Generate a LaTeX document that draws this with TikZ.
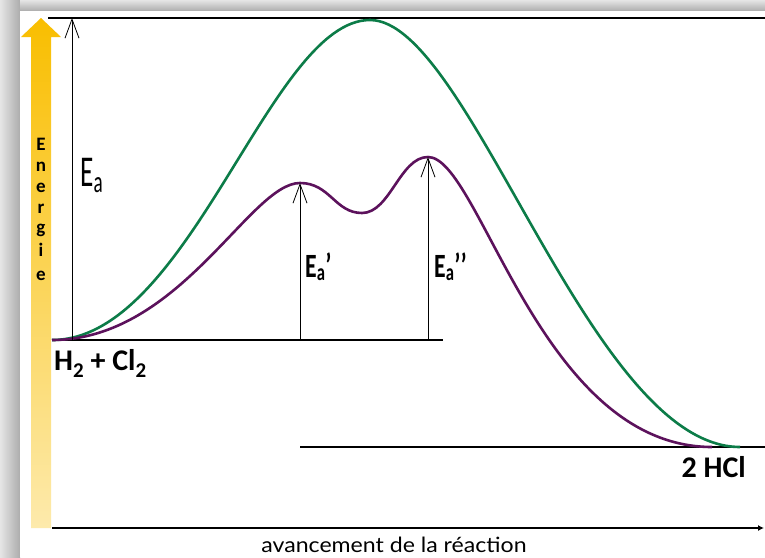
\documentclass[tikz,border=0pt]{standalone}
\usepackage{fontspec}
\setmainfont{Carlito}
\newfontfamily\axisfont{Lato}
\usetikzlibrary{arrows.meta}

\definecolor{greenpath}{RGB}{12,124,72}
\definecolor{purplepath}{RGB}{92,18,92}
\definecolor{arrowtop}{RGB}{249,190,0}
\definecolor{arrowbot}{RGB}{253,234,172}

\newcommand\lowsub[1]{\raisebox{-7pt}{\fontsize{21}{21}\selectfont #1}}

\tikzset{
  level/.style={line width=1.4pt},
  gap/.style={line width=0.8pt,-{Straight Barb[length=19pt,width=14pt]}},
  curve/.style={line width=2.6pt},
  tag/.style={font=\bfseries\fontsize{30}{30}\selectfont,inner sep=0pt},
}

\begin{document}
\begin{tikzpicture}[x=1pt,y=-1pt]
\useasboundingbox (0,0) rectangle (765,557);
% shadow behind the panel
\fill[gray!40] (0,0) rectangle (765,557);
\shade[left color=gray!20,right color=gray!65] (0,0) rectangle (20,557);
\shade[top color=gray!20,bottom color=gray!65] (20,0) rectangle (765,11);
\fill[white] (20,11) rectangle (765,557);

% energy arrow
\shade[top color=arrowtop,bottom color=arrowbot] (31,528) -- (31,37) -- (21,37) -- (41,18)
  -- (61,37) -- (51,37) -- (51,528) -- cycle;
\foreach \l/\y in {E/150,n/171,e/192,r/213,g/233,i/256,e/280}
  \node[anchor=base,inner sep=0pt,font=\bfseries\fontsize{19}{19}\selectfont] (en\y) at (41,\y) {\l};

% levels and axes
\coordinate (top0) at (48,18);   \coordinate (top1) at (765,18);
\coordinate (reac0) at (52,340); \coordinate (reac1) at (443,340);
\coordinate (prod0) at (300,447); \coordinate (prod1) at (765,447);
\coordinate (ax0) at (52,528);   \coordinate (ax1) at (764,528);
\draw[line width=2.2pt] (top0) -- (top1);
\draw[level] (reac0) -- (reac1);
\draw[level] (prod0) -- (prod1);
\draw[line width=1.8pt,-{Latex[length=6pt,width=6pt]}] (ax0) -- (ax1);

% profiles
\coordinate (ts) at (370,20);
\coordinate (ts1) at (300,183);
\coordinate (inter) at (362,213);
\coordinate (ts2) at (428,157);
\coordinate (endg) at (740,447);
\coordinate (endp) at (712,447);
\draw[curve,greenpath] (reac0) .. controls (190,340) and (270,20) .. (ts)
  .. controls (470,20) and (590,447) .. (endg);
\draw[curve,purplepath] (reac0) .. controls (180,340) and (250,183) .. (ts1)
  .. controls (330,183) and (335,213) .. (inter)
  .. controls (390,213) and (400,157) .. (ts2)
  .. controls (480,157) and (540,447) .. (endp);

% activation energies
\coordinate (ea0) at (72,340);   \coordinate (eatop) at (72,18);
\coordinate (ea10) at (300,340); \coordinate (ea20) at (428,340);
\draw[gap] (ea0) -- (eatop);
\draw[gap] (ea10) -- (ts1);
\draw[gap] (ea20) -- (ts2);
\node[anchor=base west,inner sep=0pt,font=\fontsize{44}{44}\selectfont] (ealab) at (80,186)
  {\scalebox{0.62}[1]{E\textsubscript{a}}};
\node[anchor=base west,inner sep=0pt,font=\bfseries\fontsize{34}{34}\selectfont] (ea1lab) at (305,277)
  {\scalebox{0.7}[1]{E\textsubscript{a}’}};
\node[anchor=base west,inner sep=0pt,font=\bfseries\fontsize{34}{34}\selectfont] (ea2lab) at (434,277)
  {\scalebox{0.7}[1]{E\textsubscript{a}’’}};

% species and axis label
\node[tag,anchor=base west] (reac) at (54,370) {H\lowsub{2} + Cl\lowsub{2}};
\node[tag,anchor=base east] (prod) at (746,477) {2 HCl};
\node[anchor=base,inner sep=0pt,font=\axisfont\fontsize{21}{21}\selectfont] (axlab) at (394,552)
  {\scalebox{1.1}[1]{avancement de la réaction}};
\end{tikzpicture}
\end{document}
